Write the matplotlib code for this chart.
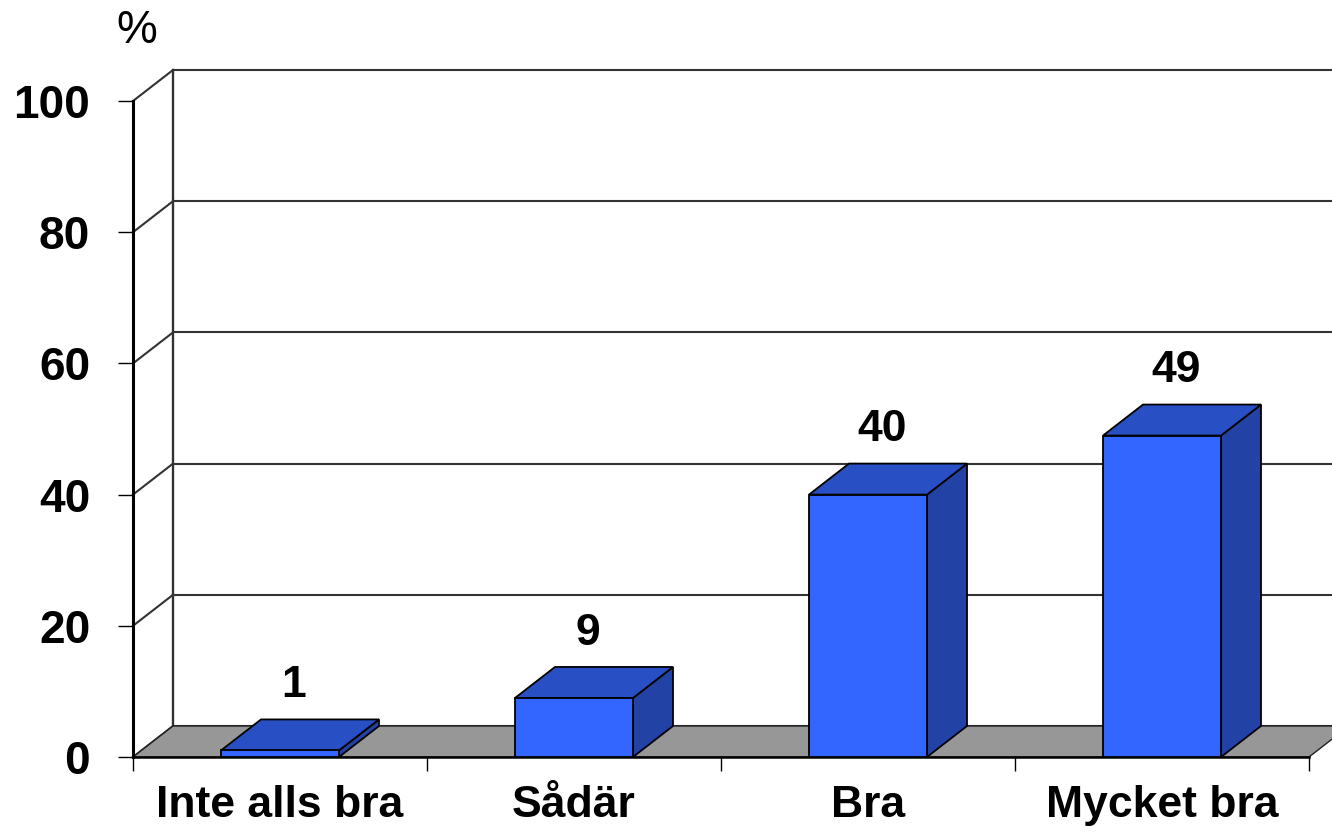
import matplotlib
matplotlib.use("Agg")
import matplotlib.pyplot as plt
from matplotlib.patches import Polygon

# ---- data ----
categories = ["Inte alls bra", "Sådär", "Bra", "Mycket bra"]
values = [1, 9, 40, 49]
ytick_values = [0, 20, 40, 60, 80, 100]
unit_label = "%"

# ---- style ----
FRONT = "#3366FF"
TOP = "#2850C4"
SIDE = "#2242A6"
FLOOR = "#979797"
GRID = "#333333"
FONT = "Liberation Sans"

W, H, DPI = 1332, 835, 100
fig = plt.figure(figsize=(W / DPI, H / DPI), dpi=DPI)
ax = fig.add_axes([0, 0, 1, 1])

# layout in pixels -> data scale
px_per_cat = 294.0
px_per_unit = 6.56
x0_px, y0_px = 133.0, 757.0   # front-left origin (from top)
ax.set_xlim(-0.5 - x0_px / px_per_cat, -0.5 + (W - x0_px) / px_per_cat)
ax.set_ylim(-(H - y0_px) / px_per_unit, y0_px / px_per_unit)

dx = 40.0 / px_per_cat
dy = 31.0 / px_per_unit
bw = 118.0 / px_per_cat
n = len(categories)
xl, xr = -0.5, n - 0.5
ymax = ytick_values[-1]

# back wall & side wall lines
ax.plot([xl + dx, xl + dx], [dy, ymax + dy], color=GRID, lw=1.7, zorder=1)
for v in ytick_values:
    ax.plot([xl + dx, xr + dx + 1], [v + dy, v + dy], color=GRID, lw=1.5, zorder=1)
    ax.plot([xl, xl + dx], [v, v + dy], color=GRID, lw=1.5, zorder=1)

# floor
floor = Polygon([(xl, 0), (xr, 0), (xr + dx, dy), (xl + dx, dy)],
                closed=True, facecolor=FLOOR, edgecolor="#202020", lw=1.0, zorder=2)
ax.add_patch(floor)

# bars
for i, v in enumerate(values):
    l, r = i - bw / 2, i + bw / 2
    front = Polygon([(l, 0), (r, 0), (r, v), (l, v)], closed=True,
                    facecolor=FRONT, edgecolor="black", lw=1.3, zorder=4)
    top = Polygon([(l, v), (r, v), (r + dx, v + dy), (l + dx, v + dy)], closed=True,
                  facecolor=TOP, edgecolor="black", lw=1.3, zorder=4)
    side = Polygon([(r, 0), (r + dx, dy), (r + dx, v + dy), (r, v)], closed=True,
                   facecolor=SIDE, edgecolor="black", lw=1.3, zorder=4)
    for p in (side, top, front):
        ax.add_patch(p)
    ax.annotate(f"{v}", xy=(i + dx * 0.35, v + dy), xytext=(0, 16), textcoords="offset points",
                ha="center", va="baseline", fontsize=32, fontweight="bold",
                family=FONT, zorder=5)

# axes / spines
for s in ("top", "right"):
    ax.spines[s].set_visible(False)
ax.spines["left"].set_position(("data", xl))
ax.spines["left"].set_bounds(0, ymax)
ax.spines["left"].set_linewidth(2.2)
ax.spines["bottom"].set_position(("data", 0))
ax.spines["bottom"].set_bounds(xl, xr)
ax.spines["bottom"].set_linewidth(1.8)
ax.spines["left"].set_zorder(3)
ax.spines["bottom"].set_zorder(3)

ax.set_yticks(ytick_values)
ax.set_yticklabels([str(v) for v in ytick_values])
ax.tick_params(axis="y", direction="out", length=10.8, width=1.0, pad=20,
               labelsize=33)
for t in ax.get_yticklabels():
    t.set_fontweight("bold")
    t.set_family(FONT)

ax.set_xticks([i - 0.5 for i in range(n + 1)])
ax.set_xticklabels([""] * (n + 1))
ax.tick_params(axis="x", which="major", direction="out", length=10, width=1.0)
ax.set_xticks(list(range(n)), minor=True)
ax.set_xticklabels(categories, minor=True)
ax.tick_params(axis="x", which="minor", length=0, pad=20, labelsize=32)
for t in ax.get_xticklabels(minor=True):
    t.set_fontweight("bold")
    t.set_family(FONT)

ax.text(xl + 0.013, ymax + 10.7, unit_label, ha="center", va="center",
        fontsize=33, family=FONT)

fig.savefig("out.png", dpi=DPI)
